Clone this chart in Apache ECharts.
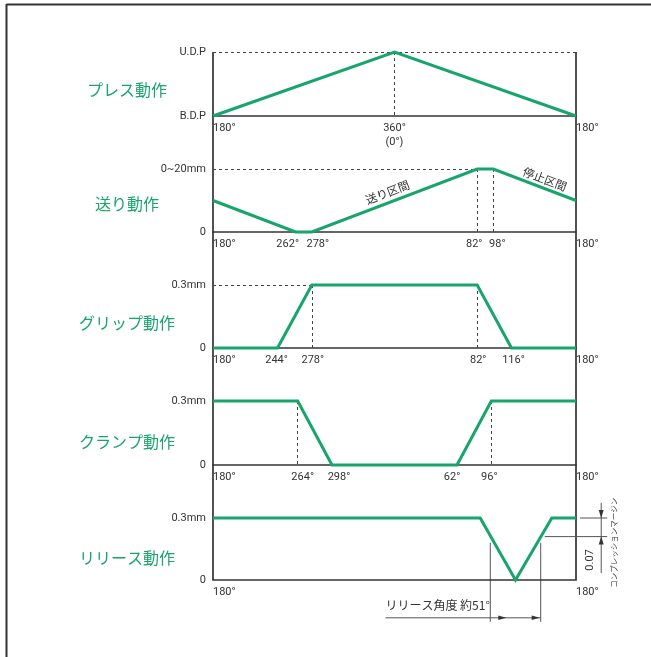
<!DOCTYPE html>
<html>
<head>
<meta charset="utf-8">
<script src="https://cdn.jsdelivr.net/npm/echarts@6/dist/echarts.min.js"></script>
<style>
html,body{margin:0;padding:0;background:#fff;}
#chart{width:651px;height:657px;}
</style>
</head>
<body>
<div id="chart"></div>
<script>
// ---------- data (crank angles in degrees, as printed on the diagram) ----------
const titles = ['プレス動作', '送り動作', 'グリップ動作', 'クランプ動作', 'リリース動作'];

const pressAngles   = [180, 360, 180];
const pressValues   = [0, 1, 0];
const feedAngles    = [180, 262, 278, 82, 98, 180];
const feedValues    = [0.5, 0, 0, 1, 1, 0.5];
const gripAngles    = [180, 244, 278, 82, 116, 180];
const gripValues    = [0, 0, 0.3, 0.3, 0, 0];
const clampAngles   = [180, 264, 298, 62, 96, 180];
const clampValues   = [0.3, 0.3, 0, 0, 0.3, 0.3];
const releaseAngles = [180, 85, 120, 156, 180];
const releaseValues = [0.3, 0.3, 0, 0.3, 0.3];

const pressTickAngles   = [180, 360, 180];
const pressTickLabels   = ['180°', '360°\n(0°)', '180°'];
const feedTickAngles    = [180, 262, 278, 82, 98, 180];
const feedTickLabels    = ['180°', '262°', '278°', '82°', '98°', '180°'];
const gripTickAngles    = [180, 244, 278, 82, 116, 180];
const gripTickLabels    = ['180°', '244°', '278°', '82°', '116°', '180°'];
const clampTickAngles   = [180, 264, 298, 62, 96, 180];
const clampTickLabels   = ['180°', '264°', '298°', '62°', '96°', '180°'];
const releaseTickAngles = [180, 180];
const releaseTickLabels = ['180°', '180°'];

const yMax        = [1, 1, 0.3, 0.3, 0.3];
const yTopLabels  = ['U.D.P', '0~20mm', '0.3mm', '0.3mm', '0.3mm'];
const yBaseLabels = ['B.D.P', '0', '0', '0', '0'];

const releaseAngleText = 'リリース角度 約51°';
const releaseMarkAngles = [95, 145];
const compressionLevel = 0.21;
const compressionText = '0.07';
const compressionTitle = 'コンプレッションマージン';
const feedSectionText = '送り区間';
const stopSectionText = '停止区間';

// ---------- helpers ----------
function unwrap(angles) {
  const out = [];
  let prev = -1;
  angles.forEach((a, i) => {
    let p = ((a - 180) % 360 + 360) % 360;
    if (i > 0 && p <= prev) p += 360;
    out.push(p);
    prev = p;
  });
  return out;
}
function posOf(a) { return ((a - 180) % 360 + 360) % 360; }

const GREEN = '#17a56c';
const TXT = '#333';
const FONT = 'Roboto, "Liberation Sans", sans-serif';
const FS = 11;
const JFONT = '"Noto Sans CJK JP", sans-serif';

const panels = [
  {angles: pressAngles, values: pressValues, ticks: pressTickAngles, labels: pressTickLabels, nudge: [0, 0, 0]},
  {angles: feedAngles, values: feedValues, ticks: feedTickAngles, labels: feedTickLabels, nudge: [0, -8, 6, -3, 4, 0]},
  {angles: gripAngles, values: gripValues, ticks: gripTickAngles, labels: gripTickLabels, nudge: [0, -1, 1, 1, 2, 0]},
  {angles: clampAngles, values: clampValues, ticks: clampTickAngles, labels: clampTickLabels, nudge: [0, 5, 7, -5, -2, 0]},
  {angles: releaseAngles, values: releaseValues, ticks: releaseTickAngles, labels: releaseTickLabels, nudge: [0, 0]}
];

const gridBoxes = [
  {top: 52, height: 64},
  {top: 169, height: 63},
  {top: 285, height: 63},
  {top: 401, height: 64},
  {top: 518, height: 62}
];

const grids = [], xAxes = [], yAxes = [], series = [];

panels.forEach((p, i) => {
  grids.push({left: 213, right: 75, top: gridBoxes[i].top, height: gridBoxes[i].height, containLabel: false});
  const tickPos = unwrap(p.ticks);
  const labelMap = {};
  const rich = {};
  tickPos.forEach((tp, k) => {
    const n = p.nudge[k] || 0;
    const key = 'k' + k;
    rich[key] = {padding: n > 0 ? [0, 0, 0, 2 * n] : [0, -2 * n, 0, 0], fontSize: FS, color: TXT, fontFamily: FONT, lineHeight: 14};
    labelMap[tp] = p.labels[k].split('\n').map(s => '{' + key + '|' + s + '}').join('\n');
  });
  xAxes.push({
    gridIndex: i, type: 'value', min: 0, max: 360,
    axisLine: {show: true, onZero: false, lineStyle: {color: '#333', width: 1.7}},
    axisTick: {show: false}, splitLine: {show: false},
    axisLabel: {
      customValues: tickPos,
      formatter: v => labelMap[v] || '',
      color: TXT, fontSize: FS, fontFamily: FONT, margin: 5, lineHeight: 14,
      alignMinLabel: 'left', alignMaxLabel: 'left',
      hideOverlap: false, rich: rich
    }
  });
  const M = yMax[i];
  yAxes.push({
    gridIndex: i, type: 'value', min: 0, max: M,
    axisLine: {show: false}, axisTick: {show: false}, splitLine: {show: false},
    axisLabel: {
      customValues: [0, M],
      formatter: v => (v === 0 ? yBaseLabels[i] : yTopLabels[i]),
      color: TXT, fontSize: FS, fontFamily: FONT, margin: 7
    }
  });
  const xs = unwrap(p.angles);
  series.push({
    type: 'line', xAxisIndex: i, yAxisIndex: i,
    data: xs.map((x, k) => [x, p.values[k]]),
    showSymbol: false, symbol: 'none', clip: false, z: 5,
    lineStyle: {color: GREEN, width: 3, join: 'miter'},
    silent: true
  });
});

// dashed guide lines (data coordinates)
const dash = {type: [3, 3], color: '#444', width: 1};
function ml(pairs) {
  return {symbol: 'none', silent: true, label: {show: false}, lineStyle: dash, animation: false,
    data: pairs.map(pr => [{coord: pr[0]}, {coord: pr[1]}])};
}
series[0].markLine = ml([
  [[0, 1], [360, 1]],
  [[posOf(360), 1], [posOf(360), 0]]
]);
series[1].markLine = ml([
  [[0, 1], [posOf(82), 1]],
  [[posOf(82), 1], [posOf(82), 0]],
  [[posOf(98), 1], [posOf(98), 0]]
]);
series[2].markLine = ml([
  [[0, 0.3], [posOf(278), 0.3]],
  [[posOf(278), 0.3], [posOf(278), 0]],
  [[posOf(82), 0.3], [posOf(82), 0]]
]);
series[3].markLine = ml([
  [[posOf(264), 0.3], [posOf(264), 0]],
  [[posOf(96), 0.3], [posOf(96), 0]]
]);

const chart = echarts.init(document.getElementById('chart'), null, {renderer: 'canvas'});
chart.setOption({
  animation: false,
  backgroundColor: '#fff',
  grid: grids, xAxis: xAxes, yAxis: yAxes, series: series
});

// ---------- annotations ----------
function px(g, x, y) { return chart.convertToPixel({gridIndex: g}, [x, y]); }
const g = [];
const lineEl = (x1, y1, x2, y2, w, c) => ({type: 'line', silent: true, shape: {x1, y1, x2, y2}, style: {stroke: c || '#333', lineWidth: w || 1}});
const textEl = (x, y, t, st, rot) => ({type: 'text', silent: true, x, y, rotation: rot || 0, style: Object.assign({text: t, align: 'center', verticalAlign: 'middle', fill: TXT}, st)});

// outer frame (top and left)
g.push(lineEl(6.5, 4.5, 651, 4.5, 2, '#333'));
g.push(lineEl(6.5, 4, 6.5, 657, 2, '#333'));

// long left / right vertical lines
const topY = px(0, 0, 1)[1], botY = px(4, 0, 0)[1];
const lx = px(0, 0, 0)[0], rx = px(0, 360, 0)[0];
g.push(lineEl(lx, topY, lx, botY, 1.7, '#333'));
g.push(lineEl(rx, topY, rx, botY, 1.7, '#333'));

// titles
const titleY = [90, 204, 323, 442, 558];
titles.forEach((t, i) => g.push(textEl(127, titleY[i], t, {fill: GREEN, fontSize: 16, fontFamily: JFONT})));

// section labels on feed panel
(function () {
  const a = px(1, posOf(278), 0), b = px(1, posOf(82), 1);
  const ang1 = Math.atan2(a[1] - b[1], b[0] - a[0]);
  const c1 = px(1, 173, 0.63);
  g.push(textEl(c1[0], c1[1], feedSectionText, {fontSize: 11.5, fontFamily: JFONT}, ang1));
  const c = px(1, posOf(98), 1), d = px(1, 360, 0.5);
  const ang2 = Math.atan2(c[1] - d[1], d[0] - c[0]);
  const c2 = px(1, 329, 0.84);
  g.push(textEl(c2[0], c2[1], stopSectionText, {fontSize: 11.5, fontFamily: JFONT}, ang2));
})();

// release panel dimensions
(function () {
  const top = px(4, 0, 0.3)[1];
  const lev = px(4, 0, compressionLevel)[1];
  const xA = px(4, 364, 0)[0], xB = px(4, 391, 0)[0], xL = px(4, 329, 0)[0];
  g.push(lineEl(xA, top, xB, top, 1, '#555'));
  g.push(lineEl(xL, lev, xB, lev, 1, '#555'));
  const vx = px(4, 385, 0)[0];
  const vTop = px(4, 0, 0.373)[1], vBot = px(4, 0, 0.034)[1];
  g.push(lineEl(vx, vTop, vx, vBot, 1, '#555'));
  g.push({type: 'polygon', silent: true, shape: {points: [[vx - 2.5, top - 8], [vx + 2.5, top - 8], [vx, top]]}, style: {fill: '#333'}});
  g.push({type: 'polygon', silent: true, shape: {points: [[vx - 2.5, lev + 8], [vx + 2.5, lev + 8], [vx, lev]]}, style: {fill: '#333'}});
  const t07 = px(4, 374.6, 0.097);
  g.push(textEl(t07[0], t07[1], compressionText, {fontSize: FS, fontFamily: FONT}, Math.PI / 2));
  const tcm = px(4, 397.6, 0.18);
  g.push(textEl(tcm[0], tcm[1], compressionTitle, {fontSize: 7.5, fontFamily: JFONT}, Math.PI / 2));

  // release angle
  const p1 = px(4, posOf(releaseMarkAngles[0]), 0.18), p2 = px(4, posOf(releaseMarkAngles[1]), 0.18);
  const yBot = px(4, 0, -0.202)[1];
  const yDim = px(4, 0, -0.183)[1];
  g.push(lineEl(p1[0], p1[1], p1[0], yBot, 1, '#555'));
  g.push(lineEl(p2[0], p2[1], p2[0], yBot, 1, '#555'));
  const xs = px(4, 171, 0)[0];
  g.push(lineEl(xs, yDim, p2[0], yDim, 1, '#555'));
  const ah = (tip) => ({type: 'polygon', silent: true, shape: {points: [[tip - 8, yDim - 2.2], [tip - 8, yDim + 2.2], [tip, yDim]]}, style: {fill: '#333'}});
  g.push(ah(p1[0] + 16));
  g.push(ah(p2[0] - 1));
  g.push({type: 'text', silent: true, x: xs, y: px(4, 0, -0.121)[1], style: {text: releaseAngleText, align: 'left', verticalAlign: 'middle', fill: TXT, fontSize: 12, fontFamily: JFONT}});
})();

chart.setOption({graphic: g});
</script>
</body>
</html>
